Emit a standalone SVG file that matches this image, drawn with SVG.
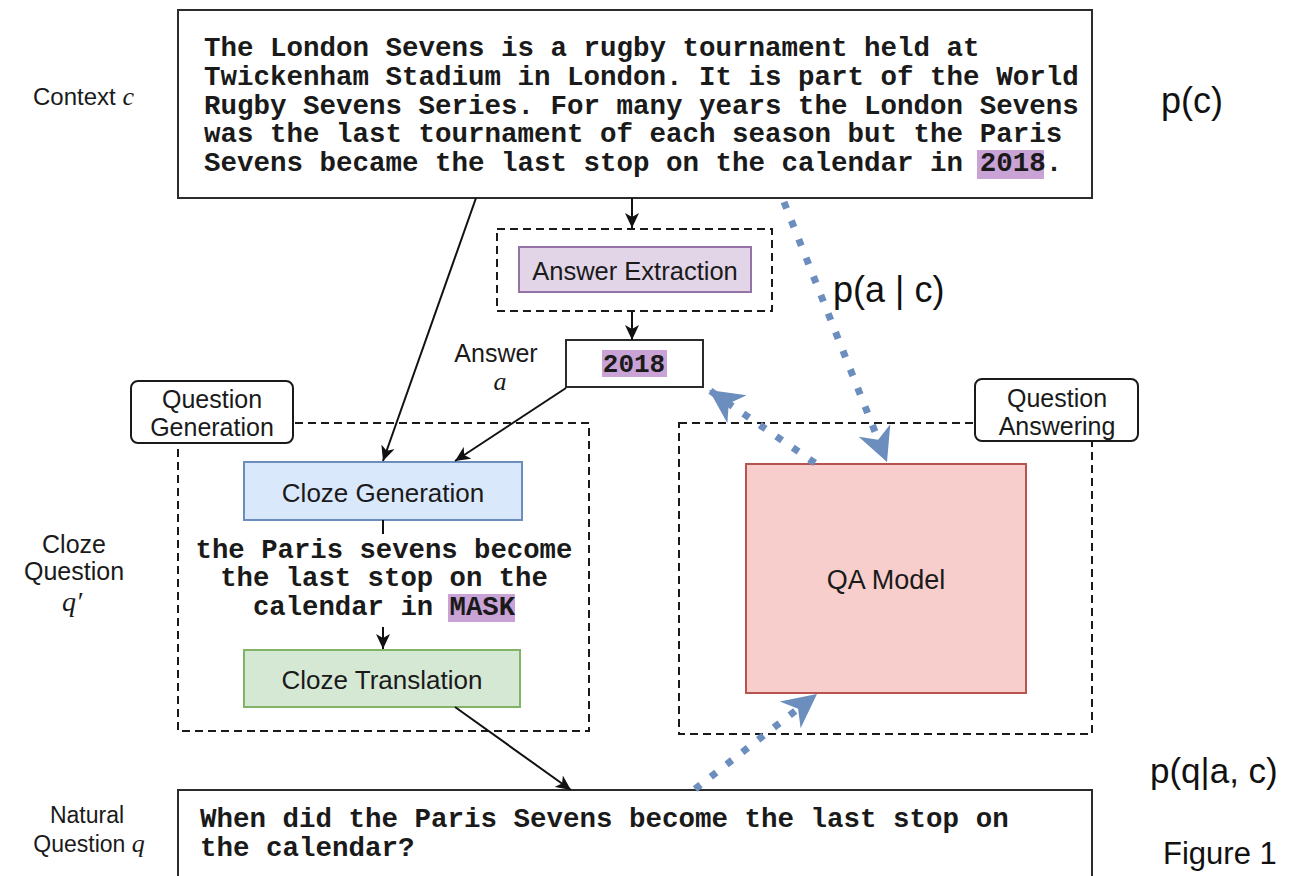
<svg xmlns="http://www.w3.org/2000/svg" width="1291" height="876" viewBox="0 0 1291 876">
  <style>
    .sans { font-family: "Liberation Sans", Arial, sans-serif; fill: #1a1a1a; }
    .math { font-family: "Liberation Serif", "Times New Roman", serif; font-style: italic; fill: #1a1a1a; }
    .mono { font-family: "Liberation Mono", "Courier New", monospace; font-weight: bold; fill: #1a1a1a; }
    .prob { font-family: "Liberation Sans", Arial, sans-serif; fill: #111; }
    .frame { fill: #fff; stroke: #2b2b2b; stroke-width: 2; }
    .group { fill: none; stroke: #1a1a1a; stroke-width: 2; stroke-dasharray: 8 5; }
    .tag { fill: #fff; stroke: #1a1a1a; stroke-width: 2; }
    .hl { fill: #c9a2d6; }
    .edge { fill: none; stroke: #111; stroke-width: 2; }
    .flow { fill: none; stroke: #6c8ebf; stroke-width: 7; stroke-dasharray: 7 13; }
  </style>
  <defs>
    <marker id="head" markerUnits="userSpaceOnUse" markerWidth="16" markerHeight="14" refX="15" refY="7" orient="auto" viewBox="0 0 16 14">
      <path d="M0,0 L15,7 L0,14 L4,7 Z" fill="#111"/>
    </marker>
    <marker id="bighead" markerUnits="userSpaceOnUse" markerWidth="36" markerHeight="36" refX="34" refY="18" orient="auto" viewBox="0 0 36 36">
      <path d="M0,1 L34,18 L0,35 L10,18 Z" fill="#6c8ebf"/>
    </marker>
  </defs>

  <rect width="1291" height="876" fill="#fff"/>

  <!-- side labels -->
  <g id="label-context">
    <text class="sans" x="33" y="105" font-size="24">Context <tspan class="math" font-size="26">c</tspan></text>
  </g>
  <g id="label-answer">
    <text class="sans" x="496" y="362" font-size="25" text-anchor="middle">Answer</text>
    <text class="math" x="500" y="390" font-size="26" text-anchor="middle">a</text>
  </g>
  <g id="label-cloze">
    <text class="sans" x="74" y="553" font-size="25" text-anchor="middle">Cloze</text>
    <text class="sans" x="74" y="580" font-size="25" text-anchor="middle">Question</text>
    <text class="math" x="72" y="611" font-size="28" text-anchor="middle">q′</text>
  </g>
  <g id="label-natural">
    <text class="sans" x="87" y="823" font-size="23" text-anchor="middle">Natural</text>
    <text class="sans" x="89" y="852" font-size="23" text-anchor="middle">Question <tspan class="math" font-size="26">q</tspan></text>
  </g>
  <g id="label-probs">
    <text class="prob" x="1161" y="113" font-size="36">p(c)</text>
    <text class="prob" x="833" y="302" font-size="36">p(a | c)</text>
    <text class="prob" x="1150" y="783" font-size="35">p(q|a, c)</text>
    <text class="prob" x="1163" y="864" font-size="31">Figure 1</text>
  </g>

  <!-- context passage -->
  <g id="context">
    <rect class="frame" x="178" y="10" width="914" height="188"/>
    <rect class="hl" x="977" y="150" width="67" height="29"/>
    <text class="mono" font-size="27.5" x="204"><tspan x="204" y="56">The London Sevens is a rugby tournament held at</tspan><tspan x="204" y="85">Twickenham Stadium in London. It is part of the World</tspan><tspan x="204" y="114">Rugby Sevens Series. For many years the London Sevens</tspan><tspan x="204" y="142">was the last tournament of each season but the Paris</tspan><tspan x="204" y="171">Sevens became the last stop on the calendar in 2018.</tspan></text>
  </g>

  <!-- answer extraction -->
  <g id="answer-extraction">
    <rect class="group" x="497" y="229" width="275" height="82"/>
    <rect x="519" y="247" width="232" height="45" fill="#e1d5e7" stroke="#9673a6" stroke-width="2"/>
    <text class="sans" x="635" y="280" font-size="25.5" text-anchor="middle">Answer Extraction</text>
  </g>

  <!-- extracted answer -->
  <g id="answer">
    <rect class="frame" x="566" y="340" width="137" height="47"/>
    <rect class="hl" x="602" y="350" width="65" height="27"/>
    <text class="mono" x="634" y="372" font-size="26" text-anchor="middle">2018</text>
  </g>

  <!-- question generation group -->
  <g id="question-generation">
    <rect class="group" x="178" y="423" width="411" height="308"/>
    <rect class="tag" x="131" y="381" width="162" height="62" rx="7"/>
    <text class="sans" x="212" y="408" font-size="25" text-anchor="middle">Question</text>
    <text class="sans" x="212" y="436" font-size="25" text-anchor="middle">Generation</text>
  </g>

  <g id="cloze-generation">
    <rect x="244" y="462" width="278" height="58" fill="#dae8fc" stroke="#6c8ebf" stroke-width="2"/>
    <text class="sans" x="383" y="502" font-size="26" text-anchor="middle">Cloze Generation</text>
  </g>

  <g id="cloze-question">
    <rect class="hl" x="448" y="594" width="67" height="28"/>
    <text class="mono" font-size="27.3" text-anchor="middle" x="384" y="558">the Paris sevens become</text>
    <text class="mono" font-size="27.3" text-anchor="middle" x="384" y="586">the last stop on the</text>
    <text class="mono" font-size="27.3" text-anchor="middle" x="384" y="615">calendar in MASK</text>
  </g>

  <g id="cloze-translation">
    <rect x="244" y="650" width="276" height="57" fill="#d5e8d4" stroke="#82b366" stroke-width="2"/>
    <text class="sans" x="382" y="689" font-size="26" text-anchor="middle">Cloze Translation</text>
  </g>

  <!-- question answering group -->
  <g id="question-answering">
    <rect class="group" x="679" y="423" width="413" height="311"/>
    <rect class="tag" x="975" y="379" width="163" height="62" rx="7"/>
    <text class="sans" x="1057" y="407" font-size="25" text-anchor="middle">Question</text>
    <text class="sans" x="1057" y="435" font-size="25" text-anchor="middle">Answering</text>
  </g>

  <g id="qa-model">
    <rect x="746" y="464" width="280" height="229" fill="#f8cecc" stroke="#b85450" stroke-width="2"/>
    <text class="sans" x="886" y="589" font-size="27" text-anchor="middle">QA Model</text>
  </g>

  <!-- natural question -->
  <g id="natural-question">
    <rect class="frame" x="178" y="790" width="914" height="100" stroke-width="2.5"/>
    <text class="mono" font-size="27.5"><tspan x="200" y="827">When did the Paris Sevens become the last stop on</tspan><tspan x="200" y="856">the calendar?</tspan></text>
  </g>

  <!-- connectors -->
  <g id="connectors">
    <path class="edge" d="M632,198 L632,228" marker-end="url(#head)"/>
    <path class="edge" d="M632,311 L632,340" marker-end="url(#head)"/>
    <path class="edge" d="M476,198 L383,461" marker-end="url(#head)"/>
    <path class="edge" d="M566,388 L455,461" marker-end="url(#head)"/>
    <path class="edge" d="M383,520 L383,534"/>
    <path class="edge" d="M383,627 L383,649" marker-end="url(#head)"/>
    <path class="edge" d="M455,707 L571,790" marker-end="url(#head)"/>
    <path class="flow" d="M784,202 L887,462" marker-end="url(#bighead)"/>
    <path class="flow" d="M815,463 L709,390" marker-end="url(#bighead)"/>
    <path class="flow" d="M695,789 L817,694" marker-end="url(#bighead)"/>
  </g>
</svg>
